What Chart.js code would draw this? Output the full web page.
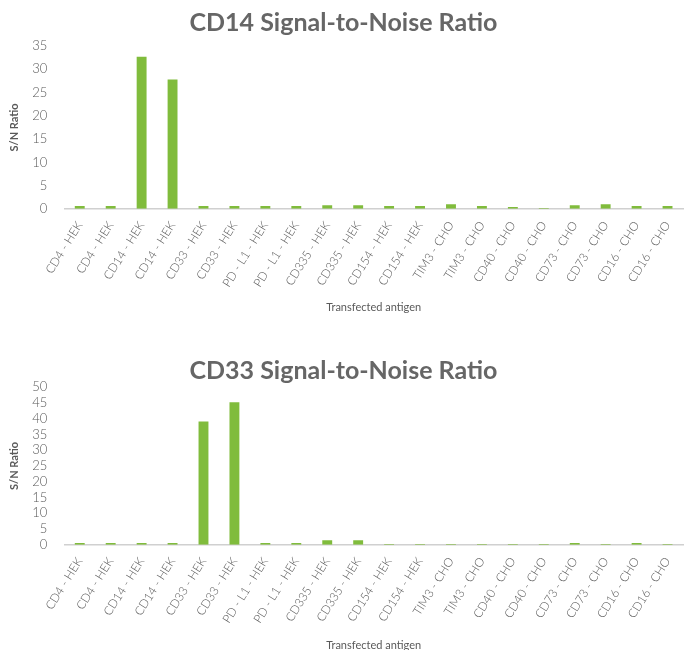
<!DOCTYPE html>
<html>
<head>
<meta charset="utf-8">
<script src="https://cdn.jsdelivr.net/npm/chart.js@4/dist/chart.umd.min.js"></script>
<style>
  html, body { margin: 0; padding: 0; background: #fff; overflow: hidden; }
  .wrap { position: absolute; left: 0; width: 686px; height: 325px; }
</style>
</head>
<body>
<div class="wrap" style="top:0"><canvas id="cd14" width="686" height="325"></canvas></div>
<div class="wrap" style="top:331px"><canvas id="cd33" width="686" height="325"></canvas></div>
<script>
const antigens = [
  'CD4 - HEK', 'CD4 - HEK', 'CD14 - HEK', 'CD14 - HEK', 'CD33 - HEK', 'CD33 - HEK',
  'PD - L1 - HEK', 'PD - L1 - HEK', 'CD335 - HEK', 'CD335 - HEK', 'CD154 - HEK', 'CD154 - HEK',
  'TIM3 - CHO', 'TIM3 - CHO', 'CD40 - CHO', 'CD40 - CHO', 'CD73 - CHO', 'CD73 - CHO',
  'CD16 - CHO', 'CD16 - CHO'
];
const cd14Ratio = [0.6, 0.6, 32.7, 27.8, 0.6, 0.6, 0.6, 0.6, 0.8, 0.8, 0.6, 0.6, 1.0, 0.6, 0.4, 0.2, 0.8, 1.0, 0.6, 0.6];
const cd33Ratio = [0.6, 0.6, 0.6, 0.6, 39.1, 45.2, 0.6, 0.6, 1.5, 1.5, 0.3, 0.3, 0.3, 0.3, 0.3, 0.3, 0.6, 0.3, 0.6, 0.3];

const green = '#80bc3c';
const grey = '#595959';

function makeChart(id, title, values, yMax, pad, titleGap, xTitleGap) {
  const ctx = document.getElementById(id).getContext('2d');
  return new Chart(ctx, {
    type: 'bar',
    data: {
      labels: antigens,
      datasets: [{
        label: title,
        data: values,
        backgroundColor: green,
        barPercentage: 0.32,
        categoryPercentage: 1
      }]
    },
    options: {
      responsive: false,
      animation: false,
      layout: { padding: pad },
      plugins: {
        legend: { display: false },
        tooltip: { enabled: false },
        title: {
          display: true,
          text: title,
          color: '#666666',
          font: { family: 'Lato', size: 25, weight: 'bold' },
          padding: { top: 0, bottom: titleGap }
        }
      },
      scales: {
        x: {
          grid: { display: false },
          border: { color: '#d0d0d0', width: 1.5 },
          ticks: {
            color: grey,
            font: { family: 'Lato', size: 12, weight: 300 },
            autoSkip: false,
            minRotation: 58,
            maxRotation: 58,
            padding: 2
          },
          title: {
            display: true,
            text: 'Transfected antigen',
            color: grey,
            font: { family: 'Lato', size: 11 },
            padding: { top: xTitleGap }
          }
        },
        y: {
          min: 0,
          max: yMax,
          grid: { display: false },
          border: { display: false },
          ticks: {
            stepSize: 5,
            autoSkip: false,
            color: grey,
            font: { family: 'Lato', size: 13, weight: 300 },
            padding: 9
          },
          title: {
            display: true,
            text: 'S/N Ratio',
            color: grey,
            font: { family: 'Lato', size: 11, weight: 'bold' },
            padding: { bottom: 2 }
          }
        }
      }
    }
  });
}

makeChart('cd14', 'CD14 Signal-to-Noise Ratio', cd14Ratio, 35, { top: 8, left: 4, right: 3, bottom: 7 }, 8, 9);
makeChart('cd33', 'CD33 Signal-to-Noise Ratio', cd33Ratio, 50, { top: 25, left: 4, right: 3, bottom: 0 }, 1, 11);
</script>
</body>
</html>
